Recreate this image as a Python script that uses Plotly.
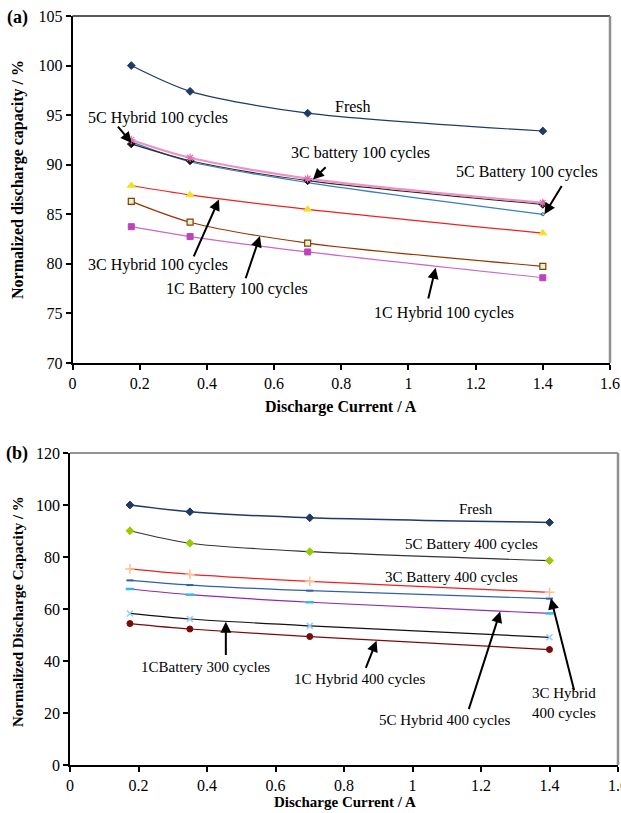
import plotly.graph_objects as go

W, H = 621, 813
current = [0.175, 0.35, 0.7, 1.4]

# Panel (a) series
a_fresh = [100.0, 97.4, 95.2, 93.4]
a_5c_hybrid = [92.1, 90.4, 88.4, 86.0]
a_5c_battery = [92.3, 90.3, 88.2, 85.0]
a_3c_battery = [92.5, 90.7, 88.6, 86.15]
a_3c_hybrid = [87.9, 86.95, 85.5, 83.1]
a_1c_battery = [86.3, 84.2, 82.1, 79.75]
a_1c_hybrid = [83.75, 82.75, 81.2, 78.6]

# Panel (b) series
b_fresh = [100.0, 97.4, 95.1, 93.3]
b_5c_battery = [90.1, 85.3, 82.05, 78.6]
b_3c_battery = [75.4, 73.3, 70.6, 66.4]
b_3c_hybrid = [71.0, 69.2, 67.05, 64.0]
b_5c_hybrid = [67.7, 65.5, 62.6, 58.3]
b_1c_battery300 = [58.3, 56.15, 53.5, 49.1]
b_1c_hybrid = [54.4, 52.3, 49.4, 44.4]

x_ticks = [0, 0.2, 0.4, 0.6, 0.8, 1, 1.2, 1.4, 1.6]
x_tick_labels = ["0", "0.2", "0.4", "0.6", "0.8", "1", "1.2", "1.4", "1.6"]
a_y_ticks = [70, 75, 80, 85, 90, 95, 100, 105]
b_y_ticks = [0, 20, 40, 60, 80, 100, 120]

FONT = "Liberation Serif"

fig = go.Figure()

def add(xa, ya, y, lc, lw, sym, mc, ms, mline=None, mlw=1):
    m = dict(symbol=sym, color=mc, size=ms)
    if mline:
        m["line"] = dict(color=mline, width=mlw)
    else:
        m["line"] = dict(color=mc, width=mlw)
    fig.add_trace(go.Scatter(x=current, y=y, xaxis=xa, yaxis=ya, mode="lines+markers",
                             line=dict(color=lc, width=lw, shape="spline", smoothing=0.8),
                             marker=m, showlegend=False, hoverinfo="skip"))

# (a)
add("x", "y", a_fresh, "#1F3A66", 1.2, "diamond", "#1F3A66", 6)
add("x", "y", a_5c_battery, "#3A7CC8", 1.2, "circle-open", "#2F5E90", 3)
add("x", "y", a_5c_hybrid, "#303020", 1.2, "diamond", "#111111", 6)
add("x", "y", a_3c_battery, "#F090C8", 2.2, "asterisk-open", "#E070B0", 7, "#E070B0", 1.2)
add("x", "y", a_3c_hybrid, "#F02020", 1.2, "triangle-up", "#F0E020", 7)
add("x", "y", a_1c_battery, "#993300", 1.2, "square", "#CCFFCC", 6, "#993300", 1.2)
add("x", "y", a_1c_hybrid, "#CC66CC", 1.2, "square", "#BB44BB", 6)

# (b)
add("x2", "y2", b_fresh, "#1F3A66", 1.5, "diamond", "#1F3A66", 6)
add("x2", "y2", b_5c_battery, "#333333", 1.2, "diamond", "#99CC00", 6)
add("x2", "y2", b_3c_battery, "#F02020", 1.2, "cross-thin-open", "#FFC090", 7, "#FFC090", 1.5)
add("x2", "y2", b_3c_hybrid, "#2F5FB0", 1.2, "line-ew-open", "#2F5FB0", 5, "#2F5FB0", 2)
add("x2", "y2", b_5c_hybrid, "#8E2BB0", 1.2, "line-ew-open", "#33BBEE", 6, "#33BBEE", 2.5)
add("x2", "y2", b_1c_battery300, "#111111", 1.2, "x-thin-open", "#99CCFF", 6, "#99CCFF", 1.5)
add("x2", "y2", b_1c_hybrid, "#7A0A0A", 1.2, "circle", "#7A0A0A", 6)

ax_common = dict(showline=True, linecolor="black", linewidth=1.5, ticks="outside",
                 ticklen=5, tickcolor="black", tickwidth=1.5, showgrid=False, zeroline=False,
                 automargin=False, ticklabeloverflow="allow",
                 tickfont=dict(family=FONT, size=16, color="black"))

XA = [72.5 / W, 610 / W]
YA = [1 - 363 / H, 1 - 16 / H]
XB = [70 / W, 618 / W]
YB = [1 - 765 / H, 1 - 453 / H]

fig.update_layout(
    template="none",
    width=W, height=H, margin=dict(l=0, r=0, t=0, b=0, pad=0),
    paper_bgcolor="white", plot_bgcolor="white",
    xaxis=dict(domain=XA, range=[0, 1.6], tickvals=x_ticks,
               ticktext=x_tick_labels, anchor="y", **ax_common),
    yaxis=dict(domain=YA, range=[70, 105], tickvals=a_y_ticks,
               anchor="x", **ax_common),
    xaxis2=dict(domain=XB, range=[0, 1.6], tickvals=x_ticks,
                ticktext=x_tick_labels, anchor="y2", **ax_common),
    yaxis2=dict(domain=YB, range=[0, 120], tickvals=b_y_ticks,
                anchor="x2", **ax_common),
)

# plot area borders (top / right), in paper coordinates so they are not clipped
for xd, yd, top in [(XA, YA, "#222222"), (XB, YB, "#707070")]:
    fig.add_shape(type="line", xref="paper", yref="paper", x0=xd[0], x1=xd[1],
                  y0=yd[1], y1=yd[1], line=dict(color=top, width=1.5))
    fig.add_shape(type="line", xref="paper", yref="paper", x0=xd[1], x1=xd[1],
                  y0=yd[0], y1=yd[1], line=dict(color="#909090", width=2.5))

def txt(xr, yr, x, y, s, size=16):
    fig.add_annotation(xref=xr, yref=yr, x=x, y=y, text=s, showarrow=False,
                       font=dict(family=FONT, size=size, color="black"))

def arrow(xr, yr, tx, ty, hx, hy):
    fig.add_annotation(xref=xr, yref=yr, axref=xr, ayref=yr, x=hx, y=hy, ax=tx, ay=ty,
                       text="", showarrow=True, arrowhead=2, arrowsize=1.1,
                       arrowwidth=2, arrowcolor="black")

# (a) labels
txt("x", "y", 0.835, 95.9, "Fresh")
txt("x", "y", 0.254, 94.68, "5C Hybrid 100 cycles")
arrow("x", "y", 0.1315, 94.0, 0.176, 92.2)
txt("x", "y", 0.856, 91.15, "3C battery 100 cycles")
arrow("x", "y", 0.758, 89.9, 0.716, 88.5)
txt("x", "y", 1.352, 89.3, "5C Battery 100 cycles")
arrow("x", "y", 1.459, 88.0, 1.405, 85.0)
txt("x", "y", 0.254, 79.88, "3C Hybrid 100 cycles")
arrow("x", "y", 0.359, 80.6, 0.436, 86.5)
txt("x", "y", 0.49, 77.46, "1C Battery 100 cycles")
arrow("x", "y", 0.514, 78.4, 0.558, 82.8)
txt("x", "y", 1.106, 75.0, "1C Hybrid 100 cycles")
arrow("x", "y", 1.058, 76.35, 1.081, 79.6)

# (b) labels
BS = 15
txt("x2", "y2", 1.184, 98.3, "Fresh", BS)
txt("x2", "y2", 1.172, 85.0, "5C Battery 400 cycles", BS)
txt("x2", "y2", 1.115, 72.2, "3C Battery 400 cycles", BS)
txt("x2", "y2", 0.397, 37.6, "1CBattery 300 cycles", BS)
arrow("x2", "y2", 0.455, 41.7, 0.455, 55.1)
txt("x2", "y2", 0.846, 32.9, "1C Hybrid 400 cycles", BS)
arrow("x2", "y2", 0.862, 36.8, 0.895, 47.8)
txt("x2", "y2", 1.094, 17.3, "5C Hybrid 400 cycles", BS)
arrow("x2", "y2", 1.163, 20.9, 1.256, 59.0)
fig.add_annotation(xref="x2", yref="y2", x=1.442, y=23.7, text="3C Hybrid<br>400 cycles",
                   showarrow=False, align="center",
                   font=dict(family=FONT, size=BS, color="black"))
arrow("x2", "y2", 1.473, 28.2, 1.404, 64.1)

def ptxt(px, py, s, size=16, angle=0, bold=True):
    fig.add_annotation(xref="paper", yref="paper", x=px / W, y=1 - py / H,
                       text=("<b>%s</b>" % s) if bold else s, showarrow=False,
                       textangle=angle, xanchor="center", yanchor="middle",
                       font=dict(family=FONT, size=size, color="black"))

ptxt(17, 17, "(a)", 18)
ptxt(17, 453, "(b)", 18)
ptxt(341, 407, "Discharge Current / A", 16)
ptxt(345, 802, "Discharge Current / A", 15)
ptxt(18, 180, "Normalized discharge capacity / %", 16, -90)
ptxt(18, 612, "Normalized Discharge Capacity / %", 15, -90)

fig.write_html("out.html")
